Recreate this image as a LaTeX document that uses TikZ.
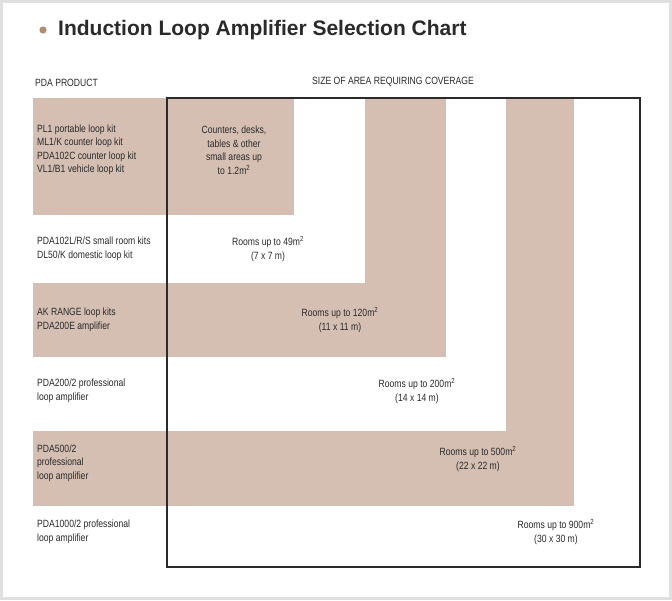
\documentclass[tikz,border=0pt]{standalone}
\usepackage{fontspec}
\setmainfont{Liberation Sans}[FakeStretch=0.82]
\newfontfamily\titlefont{Liberation Sans}
\definecolor{tan}{HTML}{D5BFB3}
\definecolor{bulletc}{HTML}{B58A73}
\definecolor{ink}{HTML}{2A2A2A}
\tikzset{
  band/.style={fill=tan,draw=none},
  prod/.style={anchor=west,align=left,font=\fontsize{10.5}{13.5}\selectfont,text=ink,inner sep=0pt},
  area/.style={align=center,font=\fontsize{10.5}{13.5}\selectfont,text=ink,inner sep=0pt}
}
\begin{document}
\begin{tikzpicture}[x=1pt,y=-1pt]
  % frame
  \fill[black!12] (0,0) rectangle (672,600);
  \fill[white] (3,3) rectangle (669,597);
  \useasboundingbox (0,0) rectangle (672,600);
  % title
  \fill[bulletc] (43,30) circle (3.6);
  \node[anchor=west,inner sep=0pt,font=\titlefont\bfseries\fontsize{21}{24}\selectfont,text=ink] (title) at (58,30) {Induction Loop Amplifier Selection Chart};
  \node[prod] (hprod) at (35,83) {PDA PRODUCT};
  \node[area] (harea) at (393,82) {SIZE OF AREA REQUIRING COVERAGE};
  % bands
  \fill[band] (33,98) rectangle (294,215);
  \fill[band] (33,283) rectangle (446,357);
  \fill[band] (365,98) rectangle (446,357);
  \fill[band] (33,431) rectangle (574,506);
  \fill[band] (506,98) rectangle (574,506);
  \draw[ink,line width=1.1pt] (167,98) rectangle (640,567);
  % products
  \node[prod] (p1) at (37,150) {PL1 portable loop kit\\ML1/K counter loop kit\\PDA102C counter loop kit\\VL1/B1 vehicle loop kit};
  \node[prod] (p2) at (37,249) {PDA102L/R/S small room kits\\DL50/K domestic loop kit};
  \node[prod] (p3) at (37,320) {AK RANGE loop kits\\PDA200E amplifier};
  \node[prod] (p4) at (37,391) {PDA200/2 professional\\loop amplifier};
  \node[prod] (p5) at (37,463) {PDA500/2\\ professional\\loop amplifier};
  \node[prod] (p6) at (37,532) {PDA1000/2 professional\\loop amplifier};
  % areas
  \node[area] (a1) at (234,150) {Counters, desks,\\tables \& other\\small areas up\\to 1.2m\textsuperscript{2}};
  \node[area] (a2) at (268,249) {Rooms up to 49m\textsuperscript{2}\\(7 x 7 m)};
  \node[area] (a3) at (340,320) {Rooms up to 120m\textsuperscript{2}\\(11 x 11 m)};
  \node[area] (a4) at (417,391) {Rooms up to 200m\textsuperscript{2}\\(14 x 14 m)};
  \node[area] (a5) at (478,459) {Rooms up to 500m\textsuperscript{2}\\(22 x 22 m)};
  \node[area] (a6) at (556,532) {Rooms up to 900m\textsuperscript{2}\\(30 x 30 m)};
\end{tikzpicture}
\end{document}
